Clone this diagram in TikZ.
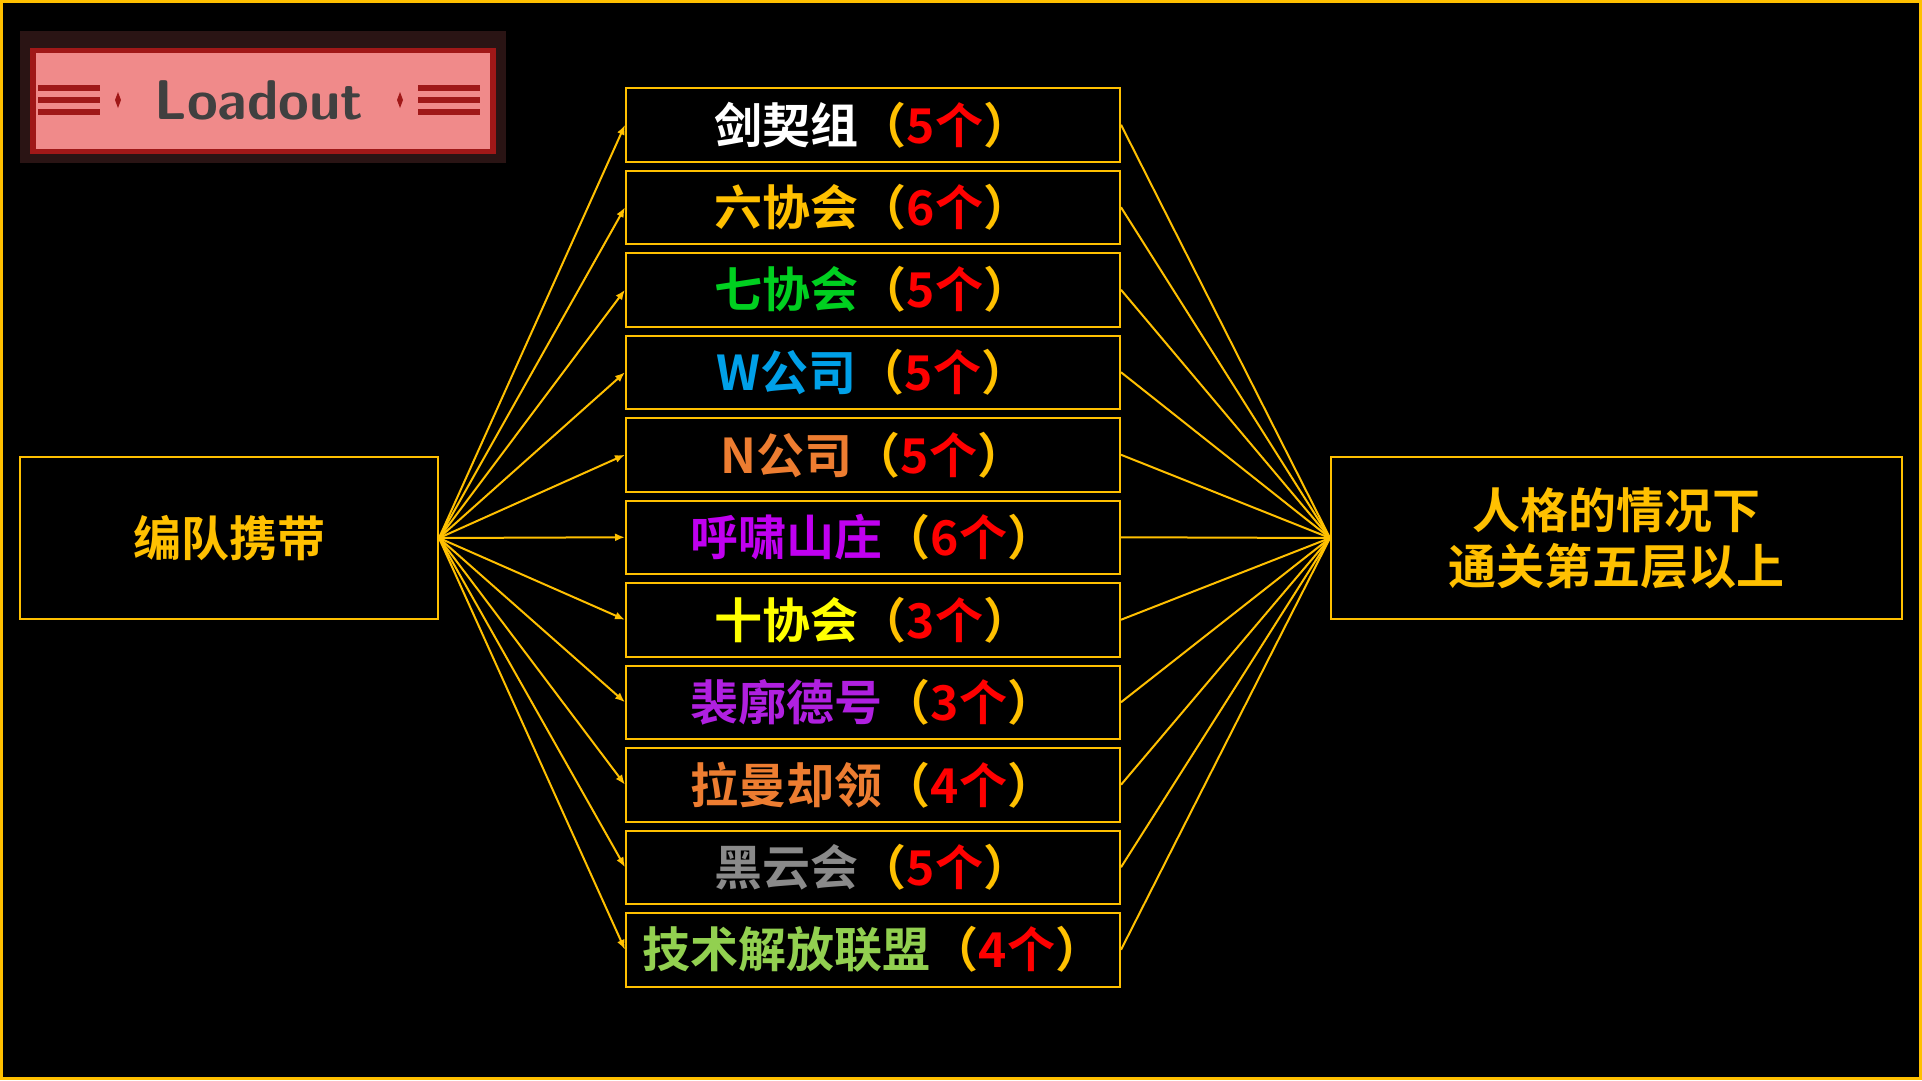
\documentclass[tikz,border=0pt]{standalone}
\usepackage{fontspec}
\newfontfamily\cjk{Noto Sans CJK SC Bold}
\definecolor{gold}{HTML}{FFC000}
\definecolor{badgebg}{HTML}{2A1414}
\definecolor{pinkb}{HTML}{F08A8A}
\definecolor{redb}{HTML}{A01818}
\begin{document}
\begin{tikzpicture}[x=1pt,y=-1pt,
  box/.style={draw=gold,line width=2pt,fill=black,inner sep=0pt},
  lab/.style={font=\cjk\fontsize{48}{56}\selectfont},
  conn/.style={gold,line width=2pt},
  tip/.style={conn,-{Latex[length=10pt,width=8pt]}}]
\usetikzlibrary{arrows.meta}
\fill[black] (0,0) rectangle (1922,1080);
\draw[gold,line width=3pt] (1.5,1.5) rectangle (1920.5,1078.5);
% badge
\fill[badgebg] (20,31) rectangle (506,163);
\fill[redb] (30,48) rectangle (496,154);
\fill[pinkb] (36,53) rectangle (490,149);
\foreach \yy in {88,100,112}{
  \fill[redb] (38,\yy-3) rectangle (100,\yy+3);
  \fill[redb] (418,\yy-3) rectangle (480,\yy+3);}
\fill[redb] (118,92) -- (121,100) -- (118,108) -- (115,100) -- cycle;
\fill[redb] (400,92) -- (403,100) -- (400,108) -- (397,100) -- cycle;
\node (badge) [text={black!75},font=\sffamily\bfseries\fontsize{56}{60}\selectfont] at (259,100) {Loadout};
% left and right boxes
\node (L) [box,minimum width=418pt,minimum height=162pt] at (229,538) {};
\node[lab,text=gold] at (229,538) {编队携带};
\node (R) [box,minimum width=571pt,minimum height=162pt] at (1616.5,538) {};
\node[lab,text=gold,align=center,font=\cjk\fontsize{48}{56}\selectfont] at (1616.5,538) {人格的情况下\\通关第五层以上};
\foreach \i/\nm/\c/\n in {
 0/剑契组/FFFFFF/5, 1/六协会/FFC000/6, 2/七协会/00D020/5, 3/W公司/00A0E8/5,
 4/N公司/ED7D31/5, 5/呼啸山庄/C000F0/6, 6/十协会/FFFF00/3, 7/裴廓德号/B020E0/3,
 8/拉曼却领/ED7D31/4, 9/黑云会/8A8A8A/5, 10/技术解放联盟/92D050/4}{
  \definecolor{tc}{HTML}{\c}
  \node (m\i) [box,minimum width=494pt,minimum height=73.5pt] at (873,124.75+82.5*\i) {};
  \node[lab] at (m\i) {\textcolor{tc}{\nm}\textcolor{gold}{（}\textcolor{red}{\n 个}\textcolor{gold}{）}};
  \draw[tip] (L.east) -- (m\i.west);
  \draw[conn] (m\i.east) -- (R.west);
}
\end{tikzpicture}
\end{document}
